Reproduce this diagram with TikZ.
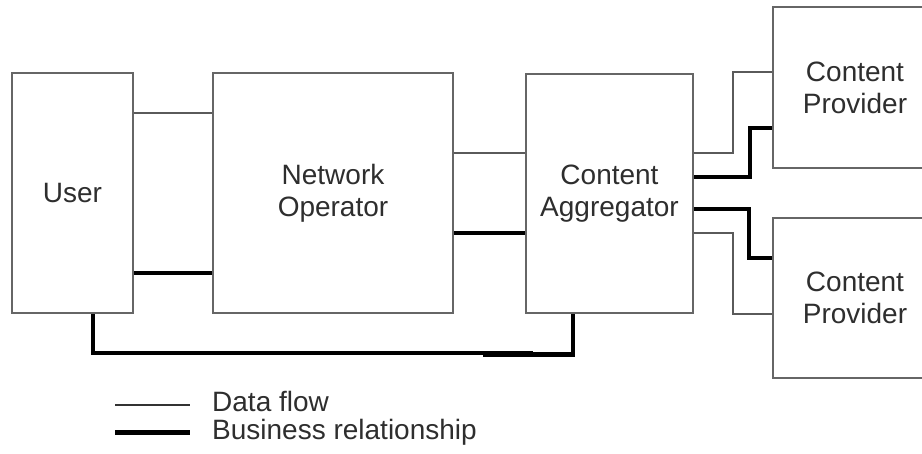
\documentclass[tikz,border=0pt]{standalone}
\usepackage{fontspec}
\setmainfont{Liberation Sans}
\definecolor{edgegray}{HTML}{666666}
\definecolor{flowgray}{HTML}{5A5A5A}
\definecolor{inkgray}{HTML}{2E2E2E}
\begin{document}
\begin{tikzpicture}[x=1pt,y=-1pt,
  box/.style={draw=edgegray, line width=2pt, fill=white, rectangle,
    text=inkgray, align=center, inner sep=0pt,
    font=\fontsize{28}{32}\selectfont},
  dataflow/.style={draw=flowgray, line width=1.7pt},
  business/.style={draw=black, line width=4.7pt, line join=miter},
  legendtext/.style={text=inkgray, anchor=base west, inner sep=0pt,
    font=\fontsize{28}{32}\selectfont}]
\useasboundingbox (0,0) rectangle (922,453);
\clip (0,0) rectangle (922,453);

% actors
\node[box, minimum width=121pt, minimum height=240pt] (user) at (72.5,193) {User};
\node[box, minimum width=240pt, minimum height=240pt] (netop) at (333,193) {Network\\Operator};
\node[box, minimum width=167pt, minimum height=239pt] (aggr) at (609.5,193.5) {Content\\Aggregator};
\node[box, minimum width=164pt, minimum height=161pt] (provA) at (855,87.5) {Content\\Provider};
\node[box, minimum width=164pt, minimum height=160pt] (provB) at (855,298) {Content\\Provider};

% user -- network operator
\draw[dataflow] (user.east |- 0,113) -- (netop.west |- 0,113);
\draw[business] (user.east |- 0,273) -- (netop.west |- 0,273);

% network operator -- aggregator
\draw[dataflow] (netop.east |- 0,153) -- (aggr.west |- 0,153);
\draw[business] (netop.east |- 0,233) -- (aggr.west |- 0,233);

% aggregator -- providers
\draw[dataflow] (aggr.east |- 0,153) -| (733,72) -- (provA.west |- 0,72);
\draw[business] (aggr.east |- 0,177) -| (750,128) -- (provA.west |- 0,128);
\draw[business] (aggr.east |- 0,209) -| (749,258) -- (provB.west |- 0,258);
\draw[dataflow] (aggr.east |- 0,233) -| (733,314) -- (provB.west |- 0,314);

% user -- aggregator, running underneath
\draw[business] (user.south -| 93,0) |- (533,353);
\draw[business] (483,354.5) -| (aggr.south -| 573,0);

% legend
\coordinate (flowA) at (115,405);
\coordinate (flowB) at (190,405);
\coordinate (bizA) at (115,432);
\coordinate (bizB) at (190,432);
\draw[dataflow, line width=1.5pt, draw=black!80] (flowA) -- (flowB);
\draw[business, line width=5pt] (bizA) -- (bizB);
\node[legendtext] (flowtxt) at (212,411) {Data flow};
\node[legendtext] (biztxt) at (212,439) {Business relationship};
\end{tikzpicture}
\end{document}
